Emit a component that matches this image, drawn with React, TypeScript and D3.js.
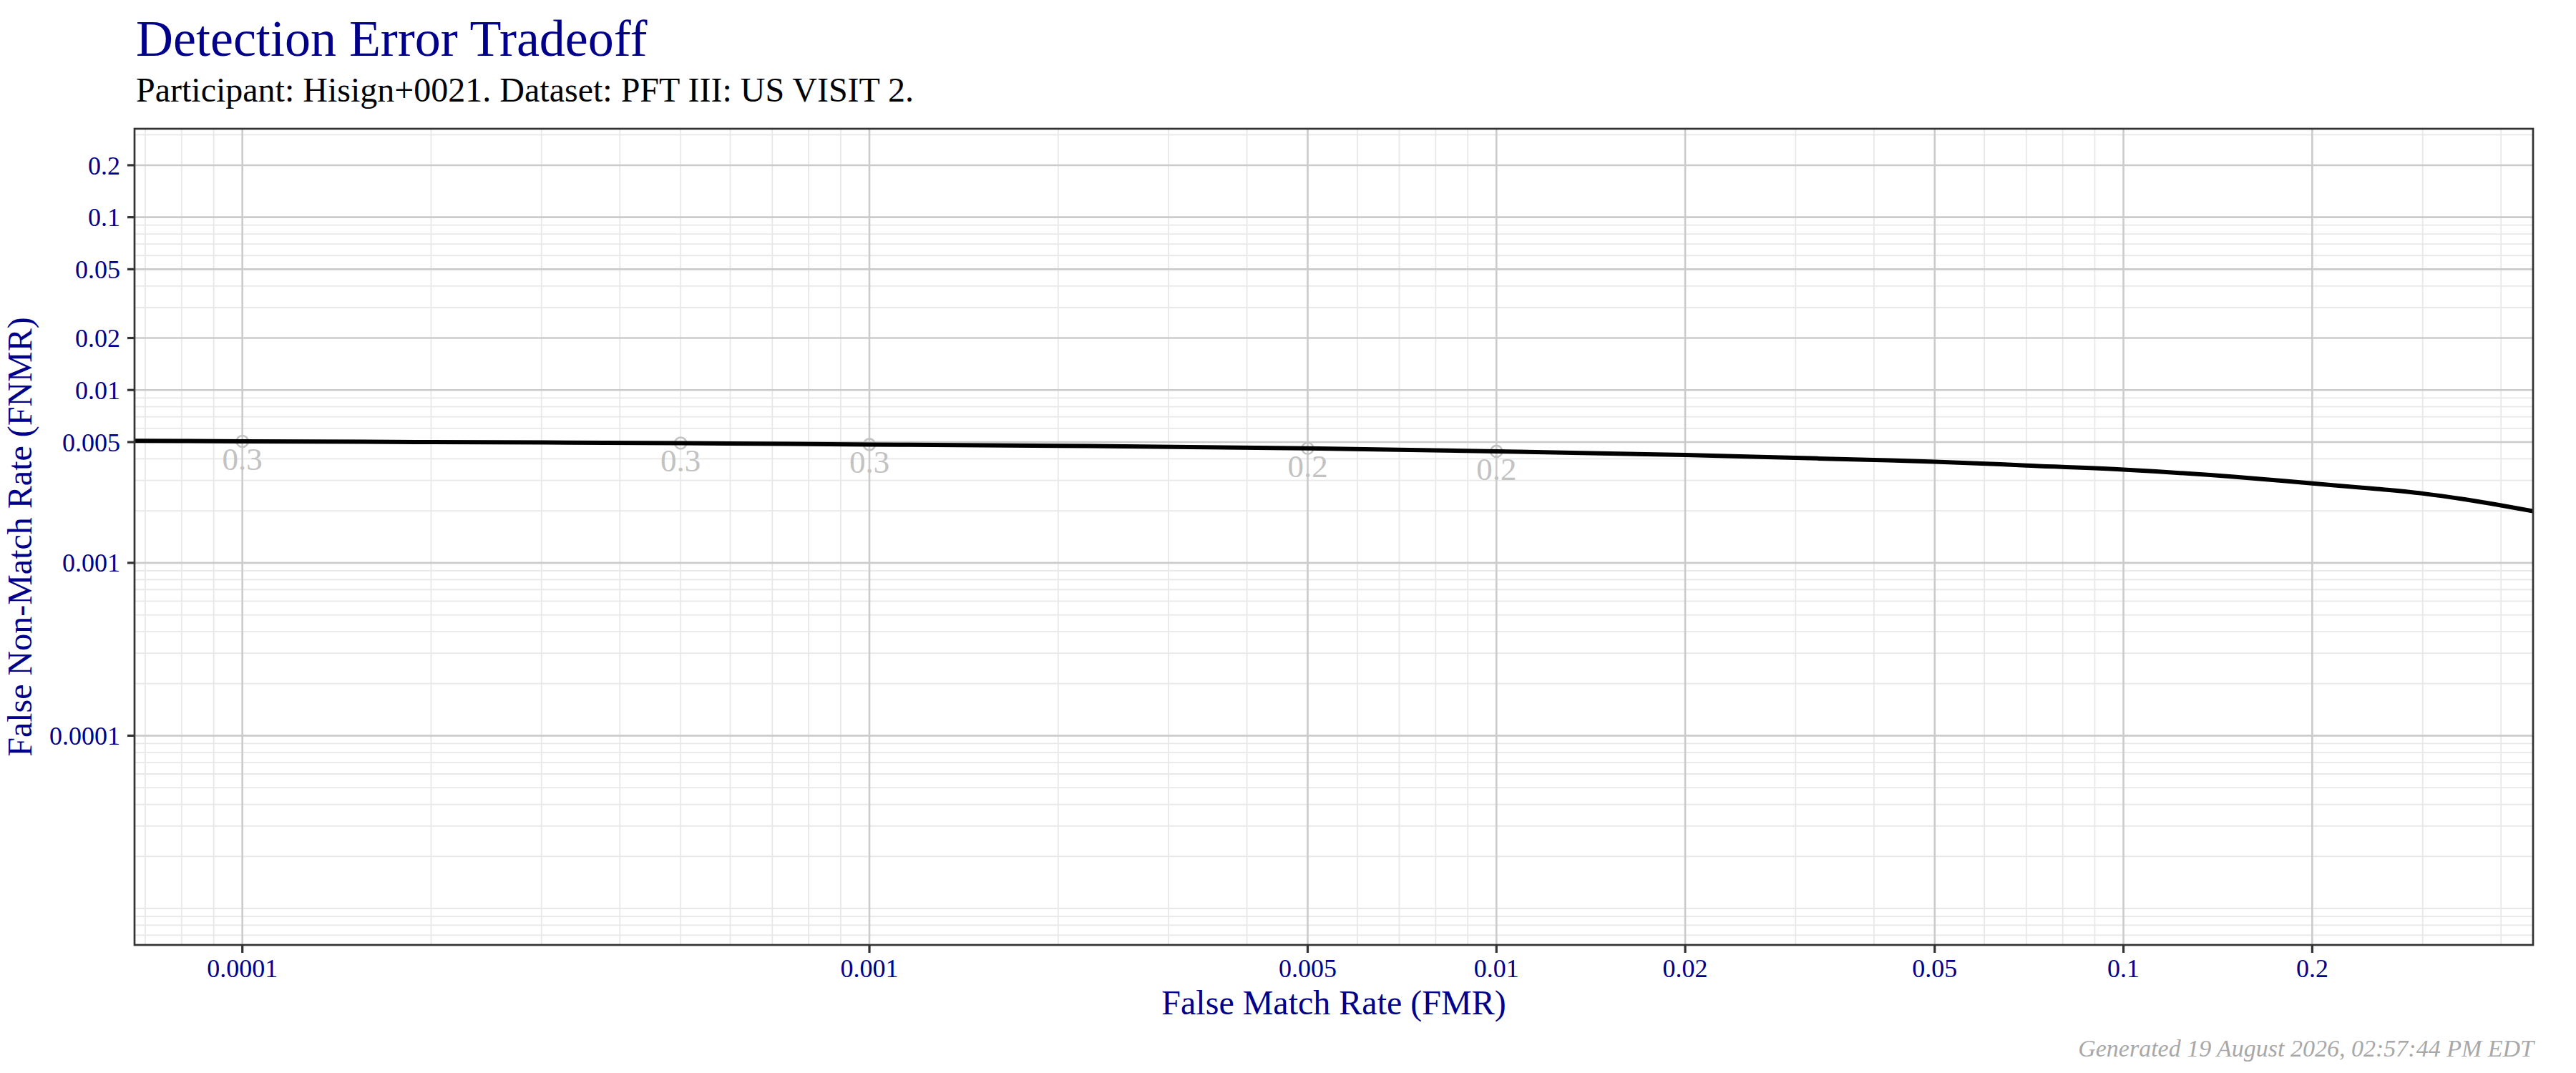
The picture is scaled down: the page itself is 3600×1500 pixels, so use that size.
import { useEffect } from 'react';
import { scaleLog, line, curveMonotoneX, range } from 'd3';

// DET curve
const fmrValues = [0.0000673, 0.0001, 0.0002, 0.0005, 0.001, 0.002, 0.005, 0.01, 0.02, 0.03, 0.04, 0.05, 0.07, 0.1, 0.15, 0.2, 0.25, 0.3, 0.35, 0.4, 0.45];
const fnmrValues = [0.00508, 0.00505, 0.005, 0.00493, 0.00484, 0.00476, 0.0046, 0.00442, 0.00421, 0.00405, 0.00394, 0.00385, 0.00366, 0.00346, 0.00315, 0.00288, 0.00269, 0.00252, 0.00233, 0.00215, 0.00199];

// threshold markers
const thresholdFmr = [0.0001, 0.0005, 0.001, 0.005, 0.01];
const thresholdFnmr = [0.00505, 0.00493, 0.00484, 0.0046, 0.00442];
const thresholdLabels = ['0.3', '0.3', '0.3', '0.2', '0.2'];

// axis ticks
const xTicks = [0.0001, 0.001, 0.005, 0.01, 0.02, 0.05, 0.1, 0.2];
const xTickLabels = ['0.0001', '0.001', '0.005', '0.01', '0.02', '0.05', '0.1', '0.2'];
const yTicks = [0.0001, 0.001, 0.005, 0.01, 0.02, 0.05, 0.1, 0.2];
const yTickLabels = ['0.0001', '0.001', '0.005', '0.01', '0.02', '0.05', '0.1', '0.2'];

const xDomain = [0.0000673, 0.45];
const yDomain = [0.00000615, 0.325];

const title = 'Detection Error Tradeoff';
const subtitle = 'Participant: Hisign+0021. Dataset: PFT III: US VISIT 2.';
const xTitle = 'False Match Rate (FMR)';
const yTitle = 'False Non-Match Rate (FNMR)';
const caption = 'Generated 19 August 2026, 02:57:44 PM EDT';

const FONT = '"Liberation Serif", "Times New Roman", serif';
const BLUE = '#00008b';

// every 1..9 x 10^k inside the domain, minus the labelled ticks
function minorTicks(domain: number[], major: number[]) {
  const out: number[] = [];
  range(-7, 1).forEach((k) => {
    range(1, 10).forEach((m) => {
      const v = +(m * Math.pow(10, k)).toPrecision(6);
      if (v >= domain[0] && v <= domain[1] && !major.some((t) => Math.abs(t - v) / v < 1e-6)) out.push(v);
    });
  });
  return out;
}

export default function App() {
  useEffect(() => {
    document.body.style.margin = '0';
  }, []);

  const width = 3600;
  const height = 1500;
  const margin = { top: 180, right: 60, bottom: 179, left: 188 };
  const innerWidth = width - margin.left - margin.right;
  const innerHeight = height - margin.top - margin.bottom;

  const xScale = scaleLog().domain(xDomain).range([0, innerWidth]);
  const yScale = scaleLog().domain(yDomain).range([innerHeight, 0]);

  const xMinor = minorTicks(xDomain, xTicks);
  const yMinor = minorTicks(yDomain, yTicks);

  const curve = fmrValues.map((f, i) => [f, fnmrValues[i]] as [number, number]);
  const path = line<[number, number]>()
    .x((d) => xScale(d[0]))
    .y((d) => yScale(d[1]))
    .curve(curveMonotoneX)(curve);

  return (
    <svg width={width} height={height} style={{ display: 'block', background: '#fff' }} fontFamily={FONT}>
      <text x={190} y={78} fontSize={72} fill={BLUE}>{title}</text>
      <text x={190} y={142} fontSize={48} fill="#000">{subtitle}</text>

      <defs>
        <clipPath id="panel-clip">
          <rect width={innerWidth} height={innerHeight} />
        </clipPath>
      </defs>

      <g transform={`translate(${margin.left},${margin.top})`}>
        {/* minor grid */}
        {xMinor.map((v) => (
          <line key={`xm${v}`} x1={xScale(v)} x2={xScale(v)} y1={0} y2={innerHeight} stroke="#e8e8e8" strokeWidth={1.8} />
        ))}
        {yMinor.map((v) => (
          <line key={`ym${v}`} y1={yScale(v)} y2={yScale(v)} x1={0} x2={innerWidth} stroke="#e8e8e8" strokeWidth={1.8} />
        ))}
        {/* major grid */}
        {xTicks.map((v) => (
          <line key={`xM${v}`} x1={xScale(v)} x2={xScale(v)} y1={0} y2={innerHeight} stroke="#cbcbcb" strokeWidth={2.6} />
        ))}
        {yTicks.map((v) => (
          <line key={`yM${v}`} y1={yScale(v)} y2={yScale(v)} x1={0} x2={innerWidth} stroke="#cbcbcb" strokeWidth={2.6} />
        ))}

        <g clipPath="url(#panel-clip)">
          {thresholdFmr.map((f, i) => (
            <g key={`th${i}`}>
              <circle cx={xScale(f)} cy={yScale(thresholdFnmr[i])} r={8} fill="none" stroke="#c2c2c2" strokeWidth={2.6} />
              <text
                x={xScale(f)}
                y={yScale(thresholdFnmr[i]) + 40}
                fontSize={45}
                fill="#c2c2c2"
                textAnchor="middle"
              >
                {thresholdLabels[i]}
              </text>
            </g>
          ))}
          <path d={path || ''} fill="none" stroke="#000" strokeWidth={6} />
        </g>

        {/* panel border */}
        <rect width={innerWidth} height={innerHeight} fill="none" stroke="#333" strokeWidth={2.7} />

        {/* x axis */}
        {xTicks.map((v, i) => (
          <g key={`xt${v}`} transform={`translate(${xScale(v)},${innerHeight})`}>
            <line y1={0} y2={11} stroke="#333" strokeWidth={3.2} />
            <text y={45} fontSize={36} fill={BLUE} textAnchor="middle">{xTickLabels[i]}</text>
          </g>
        ))}
        {/* y axis */}
        {yTicks.map((v, i) => (
          <g key={`yt${v}`} transform={`translate(0,${yScale(v)})`}>
            <line x1={-10} x2={0} stroke="#333" strokeWidth={3.2} />
            <text x={-20} dy="0.35em" fontSize={36} fill={BLUE} textAnchor="end">{yTickLabels[i]}</text>
          </g>
        ))}

        <text x={innerWidth / 2} y={innerHeight + 97} fontSize={48} fill={BLUE} textAnchor="middle">{xTitle}</text>
        <text
          transform={`translate(${-margin.left + 44},${innerHeight / 2}) rotate(-90)`}
          fontSize={48}
          fill={BLUE}
          textAnchor="middle"
        >
          {yTitle}
        </text>
      </g>

      <text x={3541} y={1477} fontSize={34} fill="#a8a8a8" fontStyle="italic" textAnchor="end">{caption}</text>
    </svg>
  );
}
